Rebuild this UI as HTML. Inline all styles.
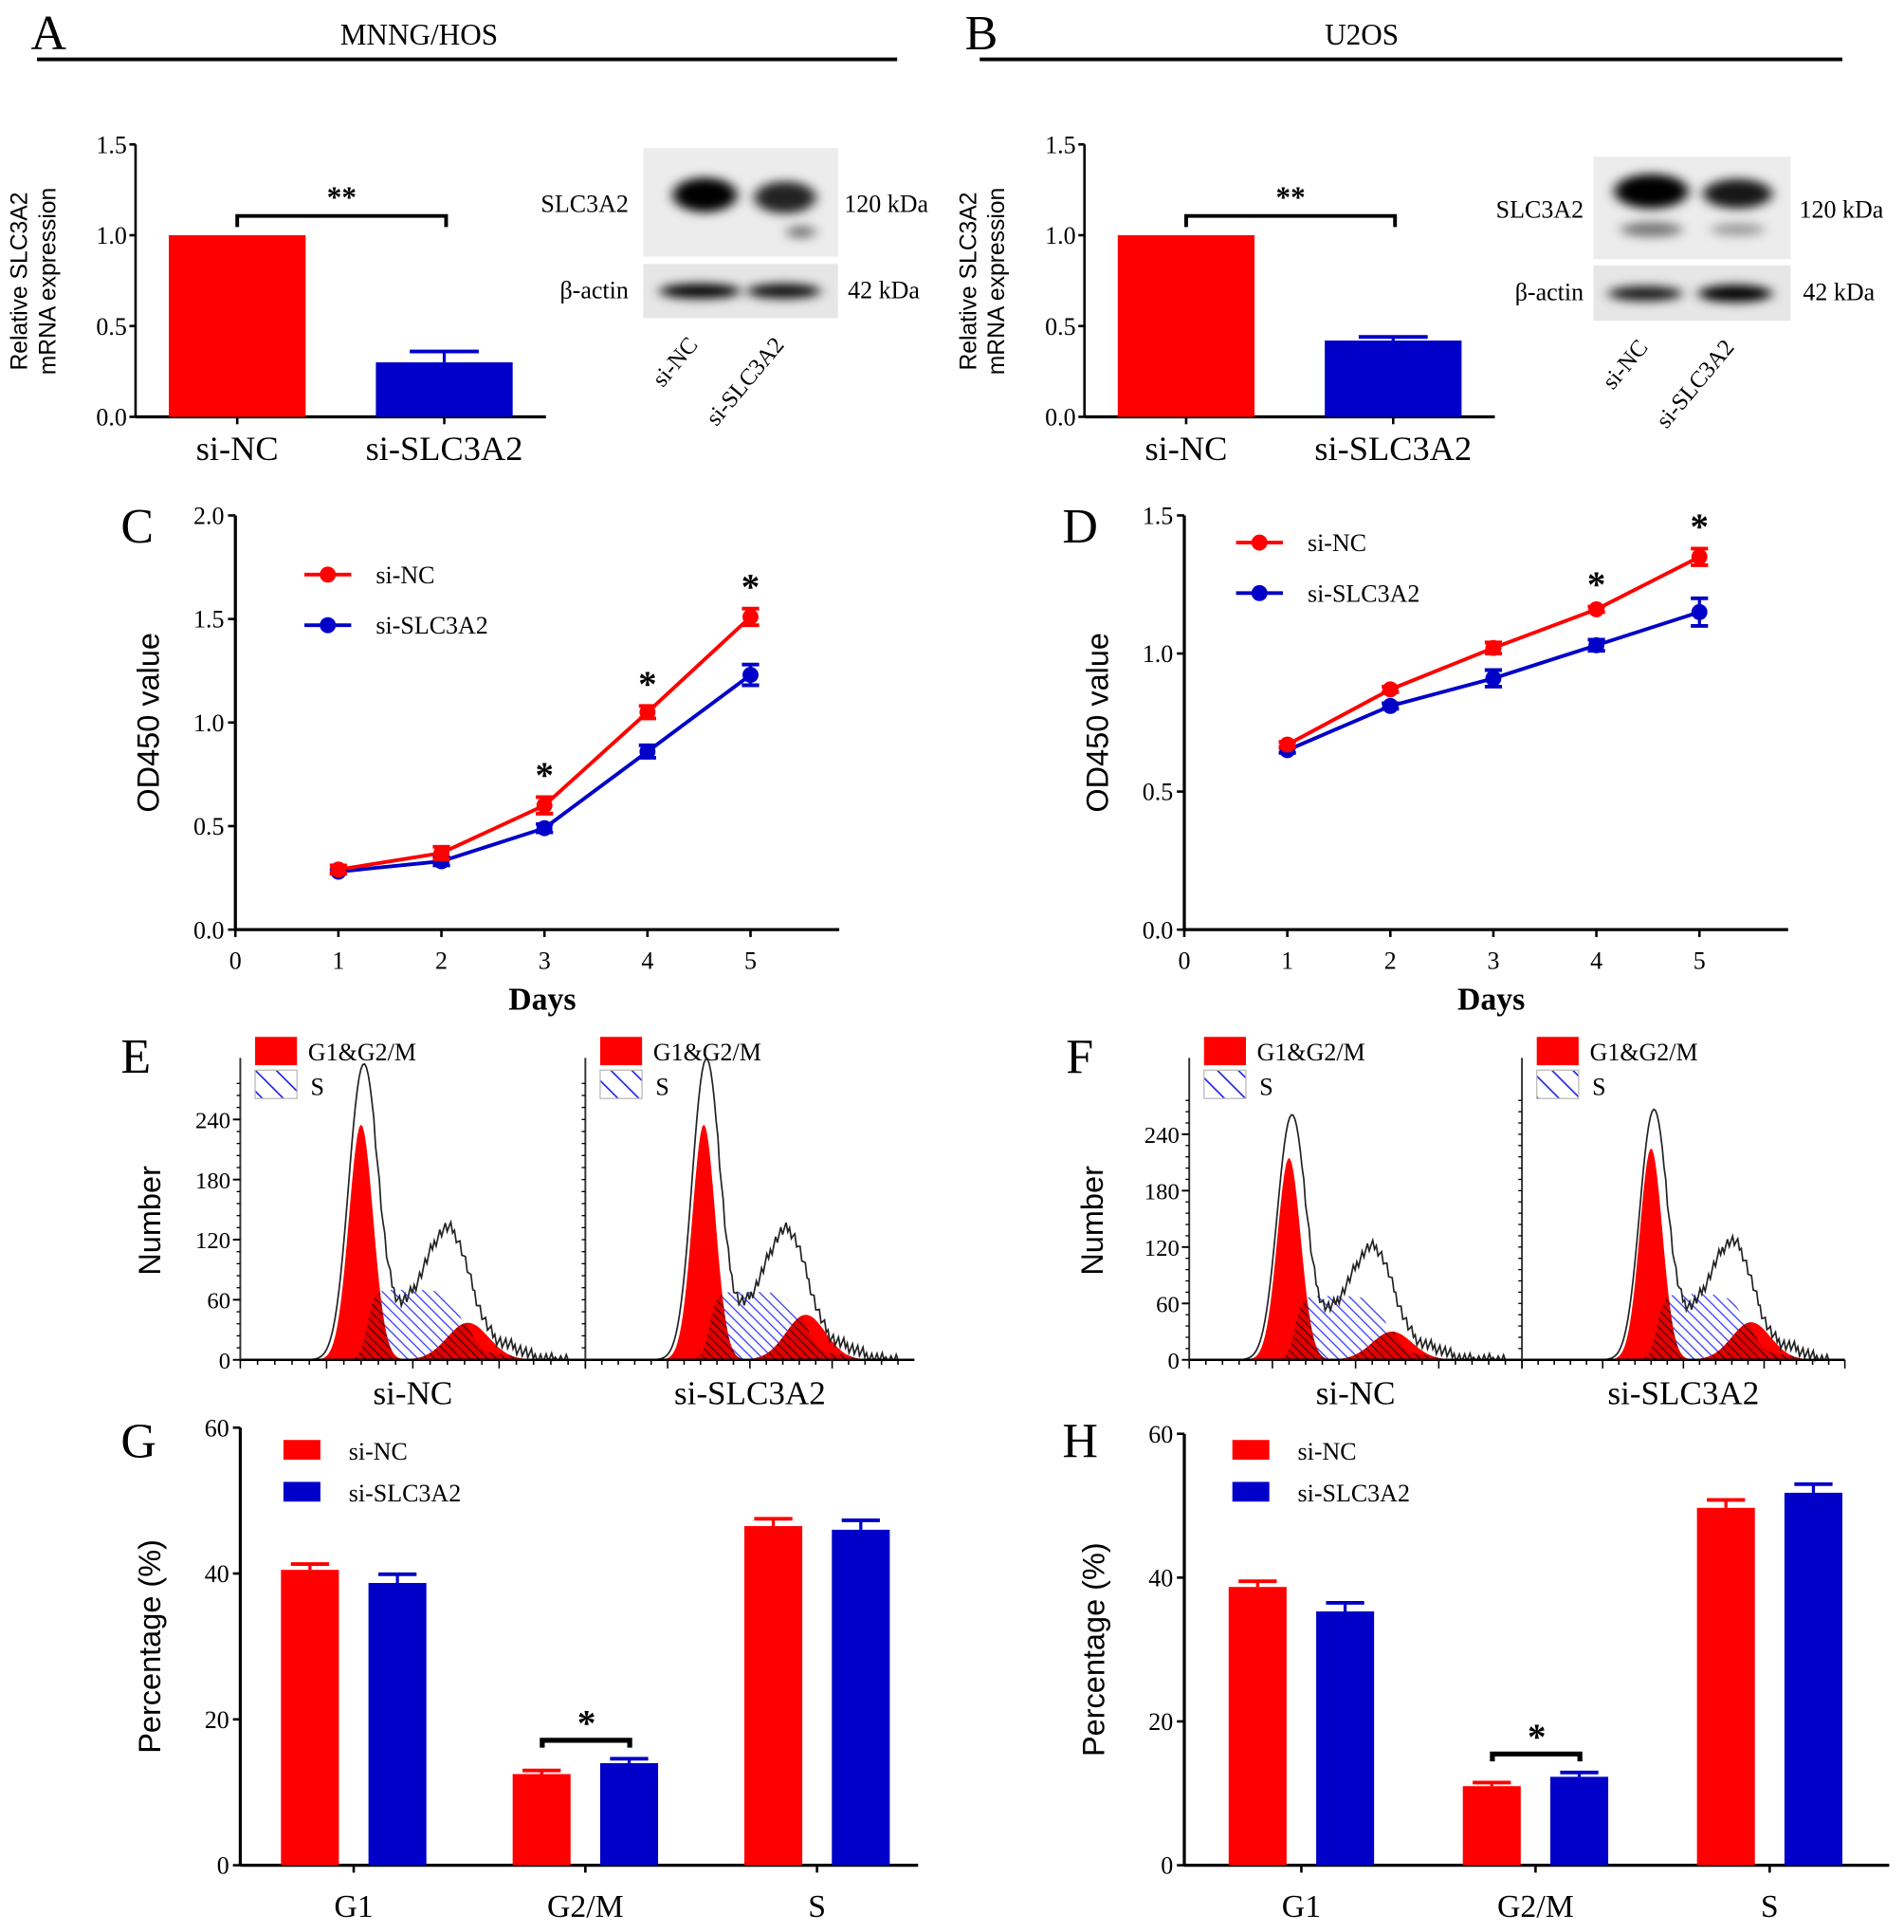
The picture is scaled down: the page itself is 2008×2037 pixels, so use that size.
<!DOCTYPE html>
<html><head><meta charset="utf-8">
<style>
html,body{margin:0;padding:0;background:#fff;}
svg{display:block;font-family:"Liberation Serif",serif;}
.sans{font-family:"Liberation Sans",sans-serif;}
</style></head>
<body>
<svg id="fig" width="2008" height="2037" viewBox="0 0 1545 1567" xmlns="http://www.w3.org/2000/svg">
<defs>
<pattern id="hatch" patternUnits="userSpaceOnUse" width="6" height="6" patternTransform="rotate(-45)"><rect width="6" height="6" fill="#fff"/><line x1="0" y1="0" x2="0" y2="6" stroke="#3a3aff" stroke-width="2"/></pattern>
<pattern id="hatchL" patternUnits="userSpaceOnUse" width="12" height="12" patternTransform="rotate(-45)"><rect width="12" height="12" fill="#fff"/><line x1="0" y1="0" x2="0" y2="12" stroke="#2020e0" stroke-width="2.5"/></pattern>
<pattern id="hatchD" patternUnits="userSpaceOnUse" width="5" height="5" patternTransform="rotate(-45)"><rect width="5" height="5" fill="#e00000"/><line x1="0" y1="0" x2="0" y2="5" stroke="#300" stroke-width="1.6"/></pattern>
<filter id="blur" x="-30%" y="-100%" width="160%" height="300%"><feGaussianBlur stdDeviation="5 4"/></filter>
</defs>
<g id="root"></g>
</svg>
<script>
// ---------- DATA ----------
const qpcrCats = ["si-NC","si-SLC3A2"];
const qpcrA = [1.0, 0.30];
const qpcrAerr = [0, 0.06];
const qpcrB = [1.0, 0.42];
const qpcrBerr = [0, 0.02];
const qpcrTicks = ["0.0","0.5","1.0","1.5"];

const days = [1,2,3,4,5];
const cRed = [0.29,0.37,0.60,1.05,1.51];
const cRedErr = [0.02,0.03,0.04,0.03,0.04];
const cBlue = [0.28,0.33,0.49,0.86,1.23];
const cBlueErr = [0.01,0.02,0.02,0.03,0.05];
const cStars = [3,4,5];
const cTicks = ["0.0","0.5","1.0","1.5","2.0"];
const dRed = [0.67,0.87,1.02,1.16,1.35];
const dRedErr = [0.01,0.01,0.02,0.01,0.03];
const dBlue = [0.65,0.81,0.91,1.03,1.15];
const dBlueErr = [0.01,0.01,0.03,0.02,0.05];
const dStars = [4,5];
const dTicks = ["0.0","0.5","1.0","1.5"];
const dayTicks = ["0","1","2","3","4","5"];

// histogram params: [g1Pos, g1Height, sHeight, g2Height, outlinePeak, bumpHeight]
const histE1 = [0.35, 235, 70, 37, 285, 95];
const histE2 = [0.36, 235, 68, 45, 290, 95];
const histF1 = [0.30, 215, 68, 30, 250, 85];
const histF2 = [0.40, 225, 70, 40, 255, 90];
const histTicks = ["0","60","120","180","240"];

const phaseCats = ["G1","G2/M","S"];
const gRed = [40.5,12.5,46.5];
const gRedErr = [0.8,0.5,1.0];
const gBlue = [38.7,14.0,46.0];
const gBlueErr = [1.2,0.6,1.3];
const hRed = [38.7,11.0,49.7];
const hRedErr = [0.8,0.5,1.1];
const hBlue = [35.3,12.3,51.8];
const hBlueErr = [1.2,0.6,1.2];
const pctTicks = ["0","20","40","60"];

const RED="#ff0000", BLUE="#0000c8";
const NS="http://www.w3.org/2000/svg";
const root=document.getElementById('root');
function el(tag,attrs,parent,txt){const e=document.createElementNS(NS,tag);for(const k in attrs)e.setAttribute(k,attrs[k]);if(txt!==undefined)e.textContent=txt;(parent||root).appendChild(e);return e;}
function line(x1,y1,x2,y2,w,c,p){return el('line',{x1,y1,x2,y2,stroke:c||'#000','stroke-width':w||2},p);}
function text(x,y,s,size,anchor,p,extra){const a={x,y,'font-size':size,'text-anchor':anchor||'start'};if(extra)Object.assign(a,extra);return el('text',a,p,s);}

// ---------- HEADERS ----------
let t;
t=text(25,40,"A",40);
t=text(340,36,"MNNG/HOS",24,'middle');
line(30,48,728,48,3);
t=text(783,40,"B",40);
t=text(1105,36,"U2OS",24,'middle');
line(795,48,1495,48,3);

// ---------- QPCR BAR CHARTS ----------
function qpcr(ox, vals, errs, name){
  const g=el('g',{});
  
  
  const y0=338, top=117, vmax=1.5;
  const y=v=>y0-(v/vmax)*(y0-top);
  line(ox,top,ox,y0,2,'#000',g);line(ox,y0,ox+333,y0,2.5,'#000',g);
  qpcrTicks.forEach(s=>{const v=parseFloat(s);line(ox-5,y(v),ox,y(v),2,'#000',g);text(ox-7,y(v)+7,s,20,'end',g);});
  const xs=[ox+27, ox+195];
  vals.forEach((v,i)=>{
    const b=el('rect',{x:xs[i],y:y(v),width:111,height:y0-y(v),fill:i?BLUE:RED},g);
    
    
    const cx=xs[i]+55.5;
    if(errs[i]>0){line(cx,y(v),cx,y(v+errs[i]),2.5,BLUE,g);line(cx-28,y(v+errs[i]),cx+28,y(v+errs[i]),3,BLUE,g);}
    line(cx,y0,cx,y0+6,2,'#000',g);
    const l=text(cx,y0+35,qpcrCats[i],28,'middle',g);
    
    
  });
  const bx1=xs[0]+55.5,bx2=xs[1]+57;
  el('path',{d:`M${bx1} 184 V175 H${bx2} V184`,fill:'none',stroke:'#000','stroke-width':3},g);
  text((bx1+bx2)/2,168,"**",24,'middle',g,{'font-weight':'bold'});
  const yt=el('text',{transform:`translate(${ox-88},228) rotate(-90)`,'font-size':19,'text-anchor':'middle',class:'sans'},g);
  
  
  el('tspan',{x:0,y:0},yt,"Relative SLC3A2");el('tspan',{x:0,y:23},yt,"mRNA expression");
}
qpcr(110,qpcrA,qpcrAerr,'chart-a-qpcr');
qpcr(880,qpcrB,qpcrBerr,'chart-b-qpcr');

// ---------- WESTERN BLOTS ----------
function blot(x,y1,w,h1,y2,h2,bands,name,lx,lkx){
  const g=el('g',{});
  
  
  el('rect',{x,y:y1,width:w,height:h1,fill:'#ececec'},g);
  el('rect',{x,y:y2,width:w,height:h2,fill:'#e6e6e6'},g);
  bands.forEach(b=>el('ellipse',{cx:b[0],cy:b[1],rx:b[2],ry:b[3],fill:'#000','fill-opacity':b[4],filter:'url(#blur)'},g));
  text(lx,y1+h1/2+8,"SLC3A2",20,'end',g);
  text(lx,y2+h2/2+6,"β-actin",20,'end',g);
  text(lkx,y1+h1/2+8,"120 kDa",20,'start',g);
  text(lkx+3,y2+h2/2+6,"42 kDa",20,'start',g);
  text(0,0,"si-NC",19,'end',g,{transform:`translate(${x+45},${y2+h2+22}) rotate(-50)`});
  text(0,0,"si-SLC3A2",19,'end',g,{transform:`translate(${x+115},${y2+h2+22}) rotate(-50)`});
}
blot(522,120,158,88,214,44,[[572,158,26,14,1],[637,160,25,13,0.85],[650,188,12,5,0.5],[568,236,33,6,1],[636,236,30,6,0.95]],'western-blot-a',510,685);
blot(1293,127,160,83,215,45,[[1340,155,30,14,1],[1410,157,28,12,0.9],[1340,186,25,6,0.5],[1410,186,22,5,0.35],[1335,238,30,6,0.9],[1408,238,30,7,1]],'western-blot-b',1285,1460);

// ---------- LINE CHARTS ----------
function lineChart(ox,vmax,ticks,red,redE,blue,blueE,stars,name,lx,ly){
  const g=el('g',{});
  
  
  const y0=754,top=418,dx=83.6;
  const y=v=>y0-(v/vmax)*(y0-top), x=d=>ox+d*dx;
  line(ox,top,ox,y0,2.5,'#000',g);line(ox,y0,ox+490,y0,2.5,'#000',g);
  ticks.forEach(s=>{const v=parseFloat(s);line(ox-6,y(v),ox,y(v),2,'#000',g);text(ox-9,y(v)+7,s,20,'end',g);});
  dayTicks.forEach(s=>{const d=+s;line(x(d),y0,x(d),y0+6,2,'#000',g);text(x(d),y0+32,s,20,'middle',g);});
  text(ox+249,y0+65,"Days",26,'middle',g,{'font-weight':'bold'});
  text(0,0,"OD450 value",25,'middle',g,{transform:`translate(${ox-62},${(top+y0)/2}) rotate(-90)`,class:'sans'});
  [[blue,blueE,BLUE,'si-SLC3A2'],[red,redE,RED,'si-NC']].forEach(([vals,errs,c,n])=>{
    const pl=el('polyline',{points:vals.map((v,i)=>x(days[i])+','+y(v)).join(' '),fill:'none',stroke:c,'stroke-width':3},g);
    
    
    vals.forEach((v,i)=>{
      const cx=x(days[i]);
      if(errs[i]>0.005){line(cx,y(v-errs[i]),cx,y(v+errs[i]),2.5,c,g);line(cx-7,y(v+errs[i]),cx+7,y(v+errs[i]),3,c,g);line(cx-7,y(v-errs[i]),cx+7,y(v-errs[i]),3,c,g);}
      const p=el('circle',{cx,cy:y(v),r:6.5,fill:c},g);
      
      
    });
  });
  stars.forEach(d=>{const i=days.indexOf(d);text(x(d),y(red[i]+redE[i])-8,"*",30,'middle',g,{'font-weight':'bold'});});
  [[RED,'si-NC',ly],[BLUE,'si-SLC3A2',ly+41]].forEach(([c,n,yy])=>{
    const lg=el('g',{},g);
    
    
    line(lx,yy,lx+38,yy,3,c,lg);el('circle',{cx:lx+19,cy:yy,r:6.5,fill:c},lg);text(lx+58,yy+7,n,20,'start',lg);
  });
}
t=text(98,440,"C",40);
lineChart(191,2.0,cTicks,cRed,cRedErr,cBlue,cBlueErr,cStars,'chart-c-cck8-mnng',247,466);
t=text(862,440,"D",40);
lineChart(961,1.5,dTicks,dRed,dRedErr,dBlue,dBlueErr,dStars,'chart-d-cck8-u2os',1003,440);

// ---------- HISTOGRAMS ----------
function gauss(x,m,s){return Math.exp(-0.5*((x-m)/s)**2);}
function hist(x0,x1,y0,perUnit,params,name,label,drawAxis){
  const g=el('g',{});
  
  
  const [pos,g1h,sh,g2h,outPk,bump]=params;
  const W=x1-x0, y=v=>y0-v*perUnit;
  const g1x=x0+W*pos, g1s=W*0.035, g2x=g1x+W*0.31, g2s=W*0.06;
  const N=160, fx=i=>x0+W*0.1+i*(W*0.85/N);
  const g1=[],g2=[],s=[],out=[];
  for(let i=0;i<=N;i++){const xx=fx(i);
    g1.push(g1h*gauss(xx,g1x,g1s)); g2.push(g2h*gauss(xx,g2x,g2s));
    const sv=sh*(1/(1+Math.exp(-(xx-g1x-g1s*0.5)/3)))*(1/(1+Math.exp((xx-g2x+g2s*0.2)/6)));
    s.push(sv);
    const noise=((i*37)%11-5)*1.3;
    out.push(Math.max(0,outPk*gauss(xx,g1x+1,g1s*1.15)+sv*0.6+bump*gauss(xx,g2x-W*0.05,W*0.07)+ (xx>g1x+g1s?noise:0)+ 10*gauss(xx,g2x+W*0.13,W*0.04)));
  }
  const poly=arr=>`M${fx(0)},${y0} `+arr.map((v,i)=>`L${fx(i)},${y(v)}`).join(' ')+` L${fx(N)},${y0} Z`;
  el('path',{d:poly(s),fill:'url(#hatch)'},g);
  el('path',{d:poly(g1),fill:RED},g);
  el('path',{d:poly(g2),fill:RED},g);
  const ov1=g1.map((v,i)=>Math.min(v,s[i])), ov2=g2.map((v,i)=>Math.min(v,s[i]*1.2+5));
  el('path',{d:poly(ov1),fill:'url(#hatchD)'},g);
  el('path',{d:poly(ov2),fill:'url(#hatchD)'},g);
  el('path',{d:out.map((v,i)=>(i?'L':'M')+fx(i)+','+y(v)).join(' '),fill:'none',stroke:'#222','stroke-width':1.3},g);
  line(x0,y0,x1,y0,2,'#000',g);line(x0,y0-245,x0,y0,1.5,'#333',g);
  for(let xx=x0;xx<=x1;xx+=W/20)line(xx,y0,xx,y0+(Math.round((xx-x0)/(W/20))%5===0?7:4),1.2,'#000',g);
  for(let v=0;v<=60*4.6;v+=12)line(x0-3,y(v),x0,y(v),1,'#000',g);
  if(drawAxis)histTicks.forEach(s=>{const v=+s;line(x0-6,y(v),x0,y(v),1.5,'#000',g);text(x0-8,y(v)+7,s,19,'end',g);});
  text((x0+x1)/2,y0+36,label,27,'middle',g);
  const lg=el('g',{},g);
  
  
  el('rect',{x:x0+12,y:y0-262,width:34,height:23,fill:RED},lg);
  text(x0+55,y0-243,"G1&G2/M",20,'start',lg);
  el('rect',{x:x0+12,y:y0-235,width:34,height:23,fill:'url(#hatchL)',stroke:'#bbb','stroke-width':1},lg);
  text(x0+57,y0-215,"S",20,'start',lg);
}
t=text(98,870,"E",40);
t=text(0,0,"Number",25,'middle',root,{transform:'translate(130,990) rotate(-90)',class:'sans'});
hist(195,475,1103,48.75/60,histE1,'histogram-e-si-nc','si-NC',true);
hist(475,742,1103,48.75/60,histE2,'histogram-e-si-slc3a2','si-SLC3A2',false);
t=text(865,870,"F",40);
t=text(0,0,"Number",25,'middle',root,{transform:'translate(895,990) rotate(-90)',class:'sans'});
hist(965,1235,1103,45.75/60,histF1,'histogram-f-si-nc','si-NC',true);
hist(1235,1497,1103,45.75/60,histF2,'histogram-f-si-slc3a2','si-SLC3A2',false);

// ---------- PHASE BAR CHARTS ----------
function phaseChart(ox,top,xEnd,red,redE,blue,blueE,name,groupStarts,lx){
  const g=el('g',{});
  
  
  const y0=1513, y=v=>y0-(v/60)*(y0-top);
  line(ox,top,ox,y0,2.5,'#000',g);line(ox,y0,xEnd,y0,2.5,'#000',g);
  pctTicks.forEach(s=>{const v=+s;line(ox-6,y(v),ox,y(v),2,'#000',g);text(ox-9,y(v)+7,s,20,'end',g);});
  text(0,0,"Percentage (%)",25,'middle',g,{transform:`translate(${ox-65},${(top+y0)/2}) rotate(-90)`,class:'sans'});
  phaseCats.forEach((c,i)=>{
    const gx=groupStarts[i];
    [[red,redE,RED,'si-nc',gx],[blue,blueE,BLUE,'si-slc3a2',gx+71]].forEach(([vals,errs,col,n,bx])=>{
      const v=vals[i];
      const b=el('rect',{x:bx,y:y(v),width:47,height:y0-y(v),fill:col},g);
      
      
      line(bx+23.5,y(v),bx+23.5,y(v+errs[i]),2.5,col,g);
      line(bx+8,y(v+errs[i]),bx+39,y(v+errs[i]),3,col,g);
    });
    const cx=gx+59;
    line(cx,y0,cx,y0+6,2,'#000',g);
    const l=text(cx,y0+42,c,26,'middle',g);
    
    
  });
  const gx=groupStarts[1], by=y(Math.max(red[1]+redE[1],blue[1]+blueE[1]))-15;
  el('path',{d:`M${gx+24} ${by+6} V${by} H${gx+95} V${by+6}`,fill:'none',stroke:'#000','stroke-width':4},g);
  text(gx+60,by-4,"*",30,'middle',g,{'font-weight':'bold'});
  [[RED,'si-NC',1168],[BLUE,'si-SLC3A2',1202]].forEach(([c,n,yy])=>{
    const lg=el('g',{},g);
    
    
    el('rect',{x:lx,y:yy,width:30,height:16,fill:c},lg);text(lx+53,yy+16,n,20,'start',lg);
  });
}
t=text(98,1182,"G",40);
phaseChart(195,1158,745,gRed,gRedErr,gBlue,gBlueErr,'chart-g-cell-cycle-mnng',[228,416,604],230);
t=text(862,1182,"H",40);
phaseChart(961,1163,1533,hRed,hRedErr,hBlue,hBlueErr,'chart-h-cell-cycle-u2os',[997,1187,1377],1000);
</script>
</body></html>
